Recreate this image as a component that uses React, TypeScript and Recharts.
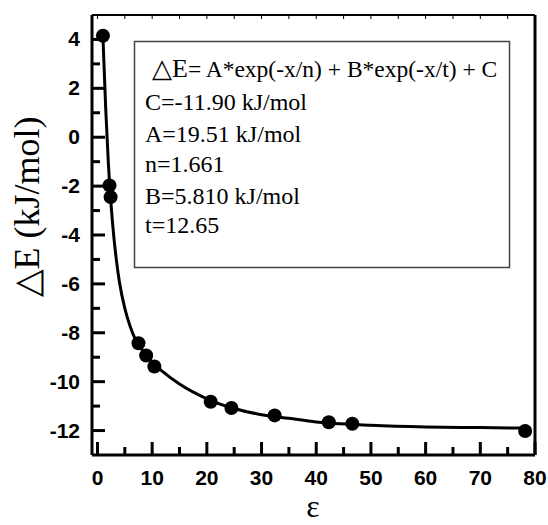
import React from "react";
import { ComposedChart, XAxis, YAxis, Line, Scatter, ReferenceLine } from "recharts";

// measured points (epsilon, ΔE in kJ/mol)
const pointX = [1.0, 2.2, 2.4, 7.5, 8.9, 10.4, 20.7, 24.5, 32.4, 42.3, 46.6, 78.2];
const pointY = [4.15, -1.97, -2.45, -8.43, -8.93, -9.38, -10.82, -11.08, -11.38, -11.66, -11.72, -12.02];

// fitted curve
const curveX = [1, 1.5, 2, 2.5, 3, 3.5, 4, 5, 6, 7, 8, 10, 12, 15, 20, 25, 30, 35, 40, 50, 60, 70, 78.2];
const curveY = [4.1, 1.2, -1.1, -2.8, -4.1, -5.1, -5.9, -7.0, -7.75, -8.3, -8.65, -9.2, -9.6, -10.1, -10.7, -11.1, -11.35, -11.5, -11.65, -11.78, -11.85, -11.88, -11.9];

const xTicks = [0, 5, 10, 15, 20, 25, 30, 35, 40, 45, 50, 55, 60, 65, 70, 75, 80];
const yTicks = [-12, -11, -10, -9, -8, -7, -6, -5, -4, -3, -2, -1, 0, 1, 2, 3, 4];

const yLabel = "△E (kJ/mol)";
const xLabel = "ε";
const formulaHead = "△E";
const formulaTail = "= A*exp(-x/n) + B*exp(-x/t) + C";
const paramLines = ["C=-11.90 kJ/mol", "A=19.51 kJ/mol", "n=1.661", "B=5.810 kJ/mol", "t=12.65"];

const points = pointX.map((x, i) => ({ x, y: pointY[i] }));
const curve = curveX.map((x, i) => ({ x, y: curveY[i] }));

const SANS: React.CSSProperties = { fontFamily: "'Liberation Sans', Arial, sans-serif", fontWeight: 700 };
const SERIF: React.CSSProperties = { fontFamily: "'Liberation Serif', 'Times New Roman', serif" };

const XTick = (props: any) => {
  const { x, y, payload } = props;
  const v = payload.value;
  const major = v % 10 === 0;
  return (
    <g>
      <line x1={x} x2={x} y1={y} y2={y - (major ? 13 : 8)} stroke="#000" strokeWidth={3} />
      {major && (
        <text x={x} y={y + 30} textAnchor="middle" style={{ ...SANS, fontSize: 21 }} fill="#000">
          {v}
        </text>
      )}
    </g>
  );
};

const TopTick = (props: any) => {
  const { x, y } = props;
  return <line x1={x} x2={x} y1={y} y2={y + 4} stroke="#000" strokeWidth={1} />;
};

const YTick = (props: any) => {
  const { x, y, payload } = props;
  const v = payload.value;
  const major = v % 2 === 0;
  const ax = x + 12;
  return (
    <g>
      <line x1={ax} x2={ax + (major ? 13 : 8)} y1={y} y2={y} stroke="#000" strokeWidth={3} />
      {major && (
        <text x={x} y={y} dy={7} textAnchor="end" style={{ ...SANS, fontSize: 21 }} fill="#000">
          {v}
        </text>
      )}
    </g>
  );
};

const Dot = (props: any) => <circle cx={props.cx} cy={props.cy} r={7} fill="#000" />;

export default function App() {
  return (
    <div style={{ position: "absolute", left: 0, top: 0, width: 548, height: 525, background: "#fff" }}>
      <ComposedChart width={548} height={525} margin={{ top: 0, right: 13, bottom: 0, left: 0 }}>
        <XAxis
          dataKey="x"
          type="number"
          domain={[-1, 80]}
          ticks={xTicks}
          interval={0}
          allowDataOverflow
          height={70}
          tickSize={0}
          tickMargin={0}
          tickLine={false}
          axisLine={{ stroke: "#000", strokeWidth: 3 }}
          tick={<XTick />}
          label={{
            content: () => (
              <text x={313} y={517} textAnchor="middle" style={{ ...SERIF, fontSize: 32 }} fill="#000">
                {xLabel}
              </text>
            ),
          }}
        />
        <XAxis
          xAxisId="top"
          orientation="top"
          dataKey="x"
          type="number"
          domain={[-1, 80]}
          ticks={xTicks}
          interval={0}
          allowDataOverflow
          height={15}
          tickSize={0}
          tickMargin={0}
          tickLine={false}
          axisLine={{ stroke: "#000", strokeWidth: 2 }}
          tick={<TopTick />}
        />
        <YAxis
          dataKey="y"
          type="number"
          domain={[-13, 5]}
          ticks={yTicks}
          interval={0}
          allowDataOverflow
          width={92}
          tickSize={0}
          tickMargin={12}
          tickLine={false}
          axisLine={{ stroke: "#000", strokeWidth: 3 }}
          tick={<YTick />}
          label={{
            content: () => (
              <text
                x={27}
                y={207}
                transform="rotate(-90, 27, 207)"
                textAnchor="middle"
                dominantBaseline="central"
                style={{ ...SERIF, fontSize: 36 }}
                fill="#000"
              >
                {yLabel}
              </text>
            ),
          }}
        />
        <ReferenceLine x={80} stroke="#000" strokeWidth={3} />
        <Line
          data={curve}
          dataKey="y"
          type="monotone"
          dot={false}
          stroke="#000"
          strokeWidth={3}
          isAnimationActive={false}
        />
        <Scatter data={points} dataKey="y" fill="#000" shape={<Dot />} isAnimationActive={false} />
      </ComposedChart>
      <svg width={548} height={525} style={{ position: "absolute", left: 0, top: 0, pointerEvents: "none" }}>
        <rect x={134.5} y={41.5} width={375} height={226} fill="#fff" stroke="#444" strokeWidth={1.5} />
        <text x={152} y={77} style={SERIF} fill="#000">
          <tspan style={{ fontSize: 26 }}>{formulaHead}</tspan>
          <tspan style={{ fontSize: 23.5 }}>{formulaTail}</tspan>
        </text>
        {paramLines.map((t, i) => (
          <text key={t} x={145} y={[110, 142, 172, 204, 233][i]} style={{ ...SERIF, fontSize: 24 }} fill="#000">
            {t}
          </text>
        ))}
      </svg>
    </div>
  );
}
